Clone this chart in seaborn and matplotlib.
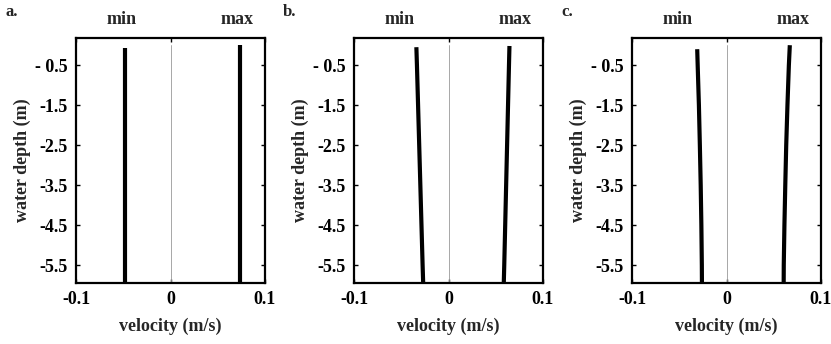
import matplotlib
matplotlib.use("Agg")
import matplotlib.pyplot as plt
import seaborn as sns
import pandas as pd

sns.set_theme(style="white")
plt.rcParams['font.family'] = ['Liberation Serif', 'DejaVu Serif']
plt.rcParams['font.weight'] = 'bold'

depth = [0.0, -0.5, -1.5, -2.5, -3.5, -4.5, -5.5, -5.95]

panel_letters = ["a.", "b.", "c."]
vel_min_a = [-0.048, -0.048, -0.048, -0.048, -0.048, -0.048, -0.048, -0.048]
vel_max_a = [0.074, 0.074, 0.074, 0.074, 0.074, 0.074, 0.074, 0.074]
vel_min_b = [-0.034, -0.0334, -0.0322, -0.031, -0.0298, -0.0286, -0.0274, -0.0268]
vel_max_b = [0.0645, 0.064, 0.063, 0.0620, 0.0610, 0.060, 0.059, 0.0585]
vel_min_c = [-0.031, -0.0305, -0.0292, -0.0282, -0.0273, -0.0266, -0.0261, -0.026]
vel_max_c = [0.067, 0.066, 0.0645, 0.0632, 0.0622, 0.0613, 0.0606, 0.0605]
min_start = [-0.08, -0.05, -0.1]
max_start = [0.0, -0.02, 0.0]

ytick_vals = [-0.5, -1.5, -2.5, -3.5, -4.5, -5.5]
ytick_labels = ["- 0.5", "-1.5", "-2.5", "-3.5", "-4.5", "-5.5"]
xtick_vals = [-0.1, 0, 0.1]
xtick_labels = ["-0.1", "0", "0.1"]

series = [(vel_min_a, vel_max_a), (vel_min_b, vel_max_b), (vel_min_c, vel_max_c)]

fig = plt.figure(figsize=(8.31, 3.44), dpi=100)
lefts = [76, 354, 632]
W, H = 831, 344
fs = 13

for i, (vmin, vmax) in enumerate(series):
    ax = fig.add_axes([lefts[i] / W, 1 - 283 / H, 189 / W, 245 / H])
    dmin = [min_start[i]] + depth[1:]
    dmax = [max_start[i]] + depth[1:]
    # zero line
    sns.lineplot(x=[0, 0], y=[0.0, -5.95], sort=False, estimator=None, ax=ax,
                 color='#999999', lw=0.6)
    sns.lineplot(x=vmin, y=dmin, sort=False, estimator=None, ax=ax, color='black',
                 lw=3, solid_capstyle='butt')
    sns.lineplot(x=vmax, y=dmax, sort=False, estimator=None, ax=ax, color='black',
                 lw=3, solid_capstyle='butt')
    ax.set_xlim(-0.1, 0.1)
    ax.set_ylim(-5.95, 0.18)
    ax.set_yticks(ytick_vals)
    ax.set_yticklabels(ytick_labels, fontsize=fs, fontweight='bold')
    ax.set_xticks(xtick_vals)
    ax.set_xticklabels(xtick_labels, fontsize=fs, fontweight='bold')
    ax.tick_params(direction='in', length=3, width=1, top=True, right=True,
                   bottom=True, left=True, pad=6, colors='black')
    for s in ax.spines.values():
        s.set_linewidth(1.6)
        s.set_color('black')
    ax.set_xlabel("velocity (m/s)", fontsize=fs, fontweight='bold', labelpad=7)
    ax.set_ylabel("water depth (m)", fontsize=fs, fontweight='bold', labelpad=3)
    ax.text(0.24, 1.04, "min", transform=ax.transAxes, ha='center', va='bottom',
            fontsize=fs, fontweight='bold')
    ax.text(0.85, 1.04, "max", transform=ax.transAxes, ha='center', va='bottom',
            fontsize=fs, fontweight='bold')
    fig.text((lefts[i] - 71) / W, 1 - 12 / H, panel_letters[i], ha='left', va='center',
             fontsize=fs - 1, fontweight='bold')
    ax.grid(False)

fig.savefig("out.png", dpi=100)
